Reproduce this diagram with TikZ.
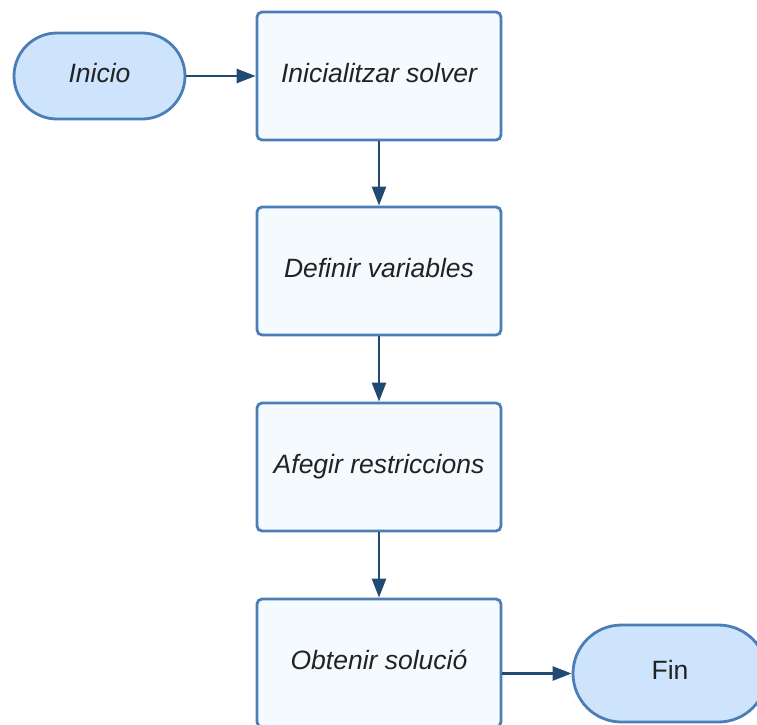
\documentclass[tikz,border=0pt]{standalone}
\usepackage{fontspec}
\setmainfont{Liberation Sans}
\usetikzlibrary{arrows.meta,shapes.misc}
\definecolor{edgeblue}{RGB}{74,126,181}
\definecolor{boxfill}{RGB}{245,250,255}
\definecolor{termfill}{RGB}{206,227,252}
\definecolor{flowline}{RGB}{33,74,115}
\definecolor{txt}{RGB}{34,34,34}
\tikzset{
  basetext/.style={text=txt, text height=19pt, text depth=7pt,
    font=\fontsize{26.5}{31}\selectfont},
  stepbox/.style={basetext, draw=edgeblue, fill=boxfill, line width=2.8pt,
    rounded corners=5pt, minimum width=244pt, minimum height=128pt,
    inner sep=0pt, font=\fontsize{26.5}{31}\selectfont\itshape},
  terminal/.style={basetext, draw=edgeblue, fill=termfill, line width=2.8pt,
    rounded rectangle, inner sep=0pt},
  flow/.style={draw=flowline, line width=2.5pt,
    -{Triangle[length=19pt, width=14pt]}}
}
\begin{document}
\begin{tikzpicture}[x=1pt, y=-1pt]
  \useasboundingbox (0,0) rectangle (757,724);
  \clip (0,0) rectangle (757,724);
  % start and end terminals
  \node[terminal, minimum width=171pt, minimum height=86pt] (inicio) at (99.5,76) {\itshape Inicio};
  \node[terminal, minimum width=194pt, minimum height=97pt] (fin) at (670,673.5) {Fin};
  % process steps
  \node[stepbox] (s1) at (379,76) {Inicialitzar solver};
  \node[stepbox] (s2) at (379,271) {Definir variables};
  \node[stepbox] (s3) at (379,467) {Afegir restriccions};
  \node[stepbox] (s4) at (379,663) {Obtenir solució};
  % connectors
  \draw[flow] (inicio.east) -- (s1.west);
  \draw[flow] (s1.south) -- (s2.north);
  \draw[flow] (s2.south) -- (s3.north);
  \draw[flow] (s3.south) -- (s4.north);
  \draw[flow] (s4.east |- fin.west) -- (fin.west);
\end{tikzpicture}
\end{document}
